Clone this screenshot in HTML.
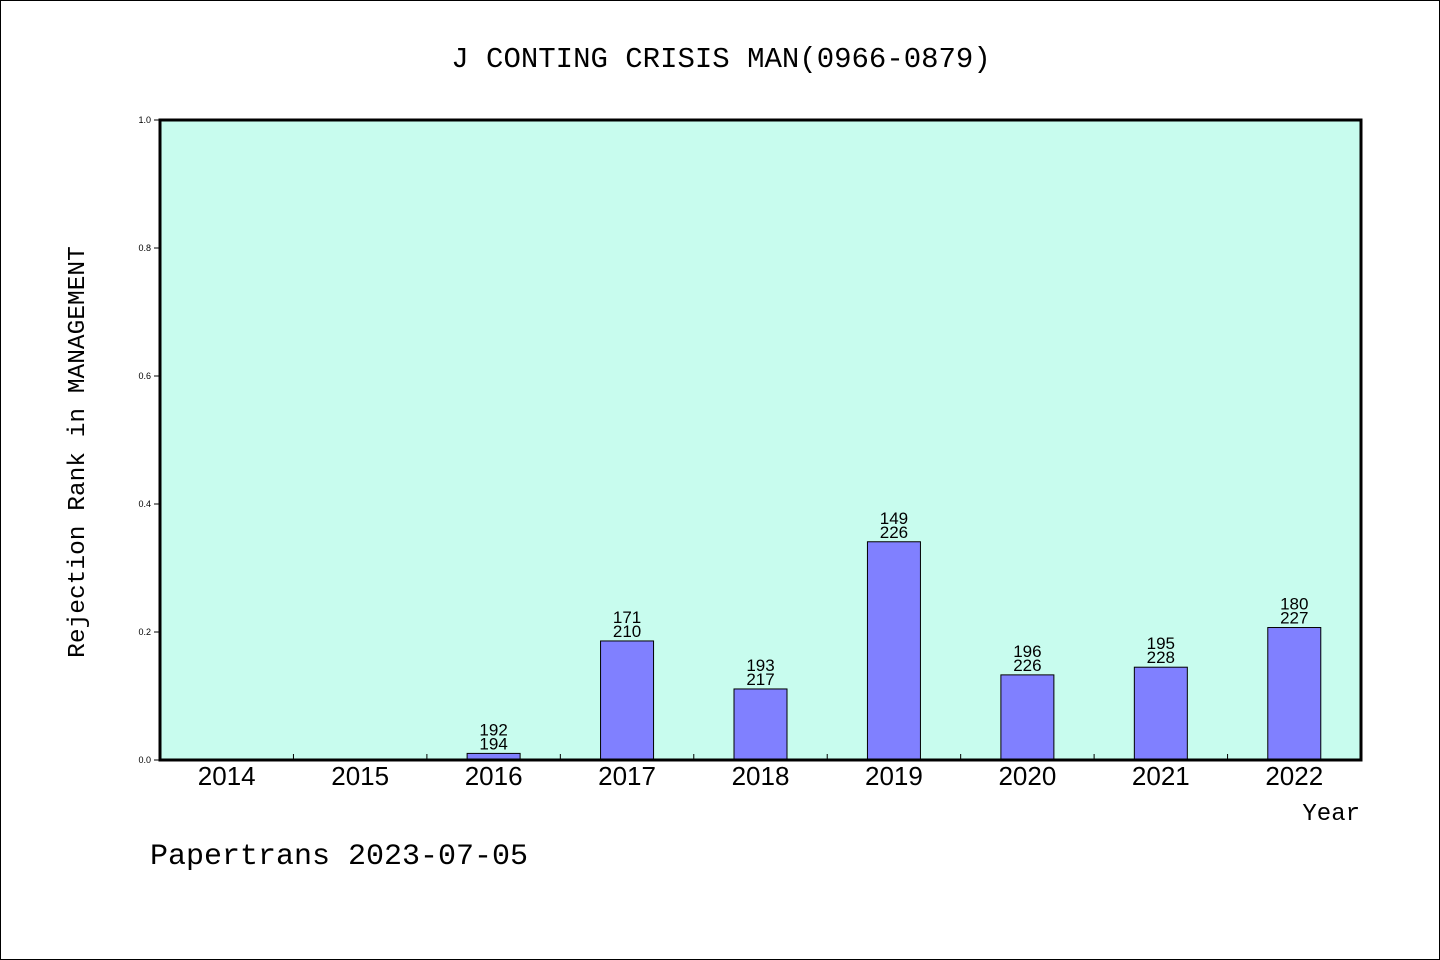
<!DOCTYPE html>
<html><head><meta charset="utf-8"><style>
html,body{margin:0;padding:0;background:#fff}
svg{display:block}
</style></head><body>
<svg id="chart" width="1440" height="960" xmlns="http://www.w3.org/2000/svg">
<rect x="0.5" y="0.5" width="1439" height="959" fill="#fff" stroke="#000"/>
<text x="721" y="67" text-anchor="middle" font-family="Liberation Mono, monospace" font-size="29">J CONTING CRISIS MAN(0966-0879)</text>
<rect x="160" y="120" width="1201" height="640" fill="#c8fcee"/>
<g id="bars"></g>
<g id="yticks"></g>
<g id="xticks"></g>
<rect x="160" y="120" width="1201" height="640" fill="none" stroke="#000" stroke-width="3"/>
<text x="84" y="452" text-anchor="middle" transform="rotate(-90 84 452)" font-family="Liberation Mono, monospace" font-size="24.5">Rejection Rank in MANAGEMENT</text>
<text x="1360" y="820" text-anchor="end" font-family="Liberation Mono, monospace" font-size="24">Year</text>
<text x="150" y="864" font-family="Liberation Mono, monospace" font-size="30">Papertrans 2023-07-05</text>
</svg>
<script>
const categories = ["2014","2015","2016","2017","2018","2019","2020","2021","2022"];
const values = [0, 0, 0.0103, 0.186, 0.111, 0.341, 0.133, 0.145, 0.207];
const topLabels = ["", "", "192", "171", "193", "149", "196", "195", "180"];
const bottomLabels = ["", "", "194", "210", "217", "226", "226", "228", "227"];
const yTicks = [0, 0.2, 0.4, 0.6, 0.8, 1.0];
const yTickLabels = ["0.0","0.2","0.4","0.6","0.8","1.0"];

const NS = "http://www.w3.org/2000/svg";
const X0 = 160, X1 = 1361, Y0 = 760, Y1 = 120;
const band = (X1 - X0) / categories.length;
function xCenter(i){ return X0 + band * (i + 0.5); }
function yScale(v){ return Y0 - (Y0 - Y1) * v; }
function mk(tag, attrs, parent){ const e = document.createElementNS(NS, tag); for (const k in attrs) e.setAttribute(k, attrs[k]); parent.appendChild(e); return e; }

const bars = document.getElementById("bars");
const yt = document.getElementById("yticks");
const xt = document.getElementById("xticks");
const bw = 53;

categories.forEach((c, i) => {
  const v = values[i];
  if (v > 0) {
    const r = mk("rect", {x: xCenter(i) - bw/2, y: yScale(v), width: bw, height: Y0 - yScale(v), fill: "#8080ff", stroke: "#000", "stroke-width": 1}, bars);
    
    
  }
  if (topLabels[i]) {
    const t1 = mk("text", {x: xCenter(i), y: yScale(v) - 18, "text-anchor": "middle", "font-family": "Liberation Sans, sans-serif", "font-size": 17}, bars);
    t1.textContent = topLabels[i];
    
    
    const t2 = mk("text", {x: xCenter(i), y: yScale(v) - 4, "text-anchor": "middle", "font-family": "Liberation Sans, sans-serif", "font-size": 17}, bars);
    t2.textContent = bottomLabels[i];
    
    
  }
  const xl = mk("text", {x: xCenter(i), y: 785, "text-anchor": "middle", "font-family": "Liberation Sans, sans-serif", "font-size": 26}, xt);
  xl.textContent = c;
  
  
  if (i > 0) {
    const tk = mk("line", {x1: X0 + band*i, x2: X0 + band*i, y1: Y0, y2: Y0 - 6, stroke: "#000", "stroke-width": 1}, xt);
    
    
  }
});

yTicks.forEach((v, i) => {
  const ln = mk("line", {x1: X0 - 6, x2: X0, y1: yScale(v), y2: yScale(v), stroke: "#000", "stroke-width": 1}, yt);
  
  
  const tl = mk("text", {x: 151, y: yScale(v) + 3, "text-anchor": "end", "font-family": "Liberation Sans, sans-serif", "font-size": 9}, yt);
  tl.textContent = yTickLabels[i];
  
  
});
</script>
</body></html>
